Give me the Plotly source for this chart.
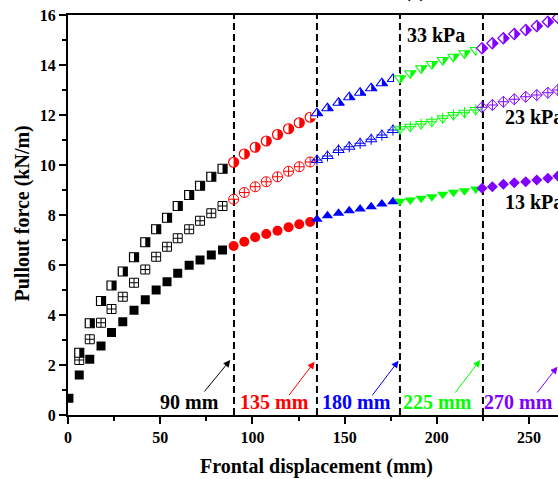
import plotly.graph_objects as go

# ---------------- data ----------------
seg_names = ["0-90", "90-135", "135-180", "180-225", "225-270"]
seg_colors = ["#000000", "#FF0000", "#0000FF", "#00FF00", "#8000FF"]
boundaries = [90, 135, 180, 225]
boundary_labels = ["90 mm", "135 mm", "180 mm", "225 mm", "270 mm"]

x_first = [0.5]
y_first_13 = [0.67]
x_black = [6.1, 11.8, 17.9, 23.6, 29.7, 35.8, 41.9, 47.8, 53.7, 59.5, 65.7, 71.6, 77.7, 83.8]
x_red = [89.8, 95.6, 101.5, 107.5, 113.6, 119.6, 125.4, 131.3]
x_blue = [135.0, 140.7, 146.7, 152.5, 158.4, 164.4, 170.2, 176.2]
x_green = [180.0, 185.6, 191.5, 197.3, 203.2, 209.0, 215.0, 221.1]
x_purple = [224.5, 230.1, 236.1, 242.0, 248.2, 254.2, 260.2, 265.6]

y13_black = [1.6, 2.23, 2.76, 3.3, 3.73, 4.19, 4.61, 5.0, 5.33, 5.67, 5.99, 6.2, 6.4, 6.6]
y13_red = [6.76, 6.93, 7.11, 7.24, 7.37, 7.51, 7.63, 7.72]
y13_blue = [7.83, 7.97, 8.07, 8.17, 8.24, 8.33, 8.44, 8.53]
y13_green = [8.55, 8.6, 8.67, 8.73, 8.83, 8.91, 8.97, 9.04]
y13_purple = [9.07, 9.13, 9.23, 9.29, 9.33, 9.4, 9.47, 9.56]

y23_black = [2.2, 3.03, 3.69, 4.24, 4.73, 5.29, 5.82, 6.33, 6.73, 7.07, 7.43, 7.77, 8.07, 8.36]
y23_red = [8.63, 8.9, 9.13, 9.33, 9.53, 9.75, 9.93, 10.12]
y23_blue = [10.2, 10.36, 10.6, 10.73, 10.87, 11.03, 11.2, 11.4]
y23_green = [11.43, 11.53, 11.64, 11.73, 11.87, 12.0, 12.09, 12.2]
y23_purple = [12.31, 12.4, 12.53, 12.63, 12.73, 12.8, 12.89, 13.0]

y33_black = [2.49, 3.67, 4.56, 5.18, 5.74, 6.31, 6.91, 7.43, 7.89, 8.36, 8.8, 9.17, 9.53, 9.85]
y33_red = [10.11, 10.44, 10.71, 10.96, 11.22, 11.45, 11.69, 11.91]
y33_blue = [12.07, 12.27, 12.49, 12.71, 12.89, 13.07, 13.27, 13.44]
y33_green = [13.47, 13.67, 13.87, 14.04, 14.2, 14.33, 14.47, 14.6]
y33_purple = [14.67, 14.87, 15.07, 15.24, 15.4, 15.56, 15.73, 15.89]

# arrows: head (x, y) and tail (x, y) in data units
arrow_head_x = [88.0, 133.7, 179.2, 223.5, 265.4]
arrow_head_y = [2.2, 2.13, 2.17, 2.2, 1.93]
arrow_tail_x = [73.3, 119.2, 164.4, 209.4, 253.8]
arrow_tail_y = [0.88, 0.73, 0.73, 0.84, 0.84]
label_x = [65.8, 111.7, 156.3, 200.5, 244.2]
label_y = 0.52

X_MAX = 265.7
PLOT_W = 490.0
PX = PLOT_W / X_MAX  # pixels per data unit

xs = [x_black, x_red, x_blue, x_green, x_purple]
y13 = [y13_black, y13_red, y13_blue, y13_green, y13_purple]
y23 = [y23_black, y23_red, y23_blue, y23_green, y23_purple]
y33 = [y33_black, y33_red, y33_blue, y33_green, y33_purple]

symbols = ["square", "circle", "triangle-up", "triangle-down", "diamond"]
sizes = [9, 10, 10, 10, 8.5]
half_w = [4.6, 5.1, 5.85, 5.85, 5.6]      # half width of each marker in px
half_h = [4.6, 5.1, 5.1, 5.1, 5.6]

FONT = "Liberation Serif"

fig = go.Figure()

# 13 kPa: solid markers
fig.add_trace(go.Scatter(x=x_first, y=y_first_13, mode="markers", showlegend=False,
                         marker=dict(symbol="square", size=9, color="#000000")))
for i in range(5):
    fig.add_trace(go.Scatter(x=xs[i], y=y13[i], mode="markers", showlegend=False,
                             marker=dict(symbol=symbols[i], size=sizes[i], color=seg_colors[i],
                                         line=dict(width=0))))

# 23 kPa: open markers with cross
for i in range(5):
    sym = symbols[i]
    if sym in ("square", "circle", "diamond"):
        fig.add_trace(go.Scatter(x=xs[i], y=y23[i], mode="markers", showlegend=False,
                                 marker=dict(symbol=sym + "-cross-open", size=sizes[i],
                                             color=seg_colors[i], line=dict(width=1))))
    else:
        fig.add_trace(go.Scatter(x=xs[i], y=y23[i], mode="markers", showlegend=False,
                                 marker=dict(symbol=sym + "-open", size=sizes[i],
                                             color=seg_colors[i], line=dict(width=1))))
        fig.add_trace(go.Scatter(x=xs[i], y=y23[i], mode="markers", showlegend=False,
                                 marker=dict(symbol="cross-thin-open", size=8,
                                             color=seg_colors[i], line=dict(width=1))))

# 33 kPa: half-filled (right half) markers
for i in range(5):
    sym = symbols[i]
    fig.add_trace(go.Scatter(x=xs[i], y=y33[i], mode="markers", showlegend=False,
                             marker=dict(symbol=sym, size=sizes[i], color=seg_colors[i],
                                         line=dict(width=0))))
    off = half_w[i] / 2.0 / PX
    fig.add_trace(go.Scatter(x=[v - off for v in xs[i]], y=y33[i], mode="markers",
                             showlegend=False, hoverinfo="skip",
                             marker=dict(symbol="line-ns-open", size=half_h[i] / 0.7,
                                         color="#FFFFFF",
                                         line=dict(width=half_w[i], color="#FFFFFF"))))
    fig.add_trace(go.Scatter(x=xs[i], y=y33[i], mode="markers", showlegend=False,
                             marker=dict(symbol=sym + "-open", size=sizes[i],
                                         color=seg_colors[i], line=dict(width=1.2))))

# dashed boundary lines
shapes = []
for b in boundaries:
    shapes.append(dict(type="line", xref="x", yref="y", x0=b, x1=b, y0=0, y1=16,
                       line=dict(color="black", width=2, dash="7px,4px"), layer="below"))

annotations = []
for i in range(5):
    annotations.append(dict(x=arrow_head_x[i], y=arrow_head_y[i], xref="x", yref="y",
                            ax=arrow_tail_x[i], ay=arrow_tail_y[i], axref="x", ayref="y",
                            text="", showarrow=True, arrowhead=2, arrowsize=1.4,
                            arrowwidth=1, arrowcolor=seg_colors[i], standoff=0))
    annotations.append(dict(x=label_x[i], y=label_y, xref="x", yref="y",
                            text="<b>" + boundary_labels[i] + "</b>", showarrow=False,
                            font=dict(family=FONT, size=20, color=seg_colors[i]),
                            xanchor="center", yanchor="middle"))

annotations.append(dict(x=199.6, y=15.2, xref="x", yref="y", text="<b>33 kPa</b>",
                        showarrow=False, font=dict(family=FONT, size=20, color="black"),
                        xanchor="center", yanchor="middle"))
annotations.append(dict(x=235.9, y=11.92, xref="x", yref="y", text="<b>23 kPa</b>",
                        showarrow=False, font=dict(family=FONT, size=20, color="black"),
                        xanchor="left", yanchor="middle"))
annotations.append(dict(x=235.9, y=8.52, xref="x", yref="y", text="<b>13 kPa</b>",
                        showarrow=False, font=dict(family=FONT, size=20, color="black"),
                        xanchor="left", yanchor="middle"))

# axis titles
annotations.append(dict(x=(316 - 68) / PLOT_W, y=0, xref="paper", yref="paper",
                        yshift=-51, text="<b>Frontal displacement (mm)</b>", showarrow=False,
                        font=dict(family=FONT, size=20, color="black"),
                        xanchor="center", yanchor="middle"))
annotations.append(dict(x=0, y=(415 - 213.5) / 400.0, xref="paper", yref="paper",
                        xshift=-46, text="<b>Pullout force (kN/m)</b>", showarrow=False,
                        textangle=-90, font=dict(family=FONT, size=20, color="black"),
                        xanchor="center", yanchor="middle"))
# partially visible panel title
annotations.append(dict(x=(415 - 68) / PLOT_W, y=1, xref="paper", yref="paper",
                        yshift=11, text="<b>(c)</b>", showarrow=False,
                        font=dict(family=FONT, size=20, color="black"),
                        xanchor="center", yanchor="bottom"))

fig.update_layout(
    width=558, height=479,
    margin=dict(l=68, r=0, t=15, b=64),
    plot_bgcolor="white", paper_bgcolor="white",
    shapes=shapes, annotations=annotations,
    showlegend=False,
)
fig.update_xaxes(range=[0, X_MAX], tickvals=[0, 50, 100, 150, 200, 250],
                 ticks="outside", ticklen=7, tickwidth=1.5, tickcolor="black",
                 minor=dict(tickvals=[25, 75, 125, 175, 225], ticks="outside", ticklen=4,
                            tickwidth=1.5, tickcolor="black", showgrid=False),
                 showline=True, linewidth=2, linecolor="black", mirror=True,
                 showgrid=False, zeroline=False,
                 tickfont=dict(family=FONT, size=16, color="black", weight="bold"))
fig.update_yaxes(range=[0, 16], tickvals=[0, 2, 4, 6, 8, 10, 12, 14, 16],
                 ticks="outside", ticklen=7, tickwidth=1.5, tickcolor="black",
                 minor=dict(tickvals=[1, 3, 5, 7, 9, 11, 13, 15], ticks="outside", ticklen=4,
                            tickwidth=1.5, tickcolor="black", showgrid=False),
                 showline=True, linewidth=2, linecolor="black", mirror=False,
                 showgrid=False, zeroline=False,
                 tickfont=dict(family=FONT, size=16, color="black", weight="bold"))

fig.write_html("out.html", config={"displayModeBar": False},
               post_script="document.body.style.margin='0';document.body.style.overflow='hidden';")
